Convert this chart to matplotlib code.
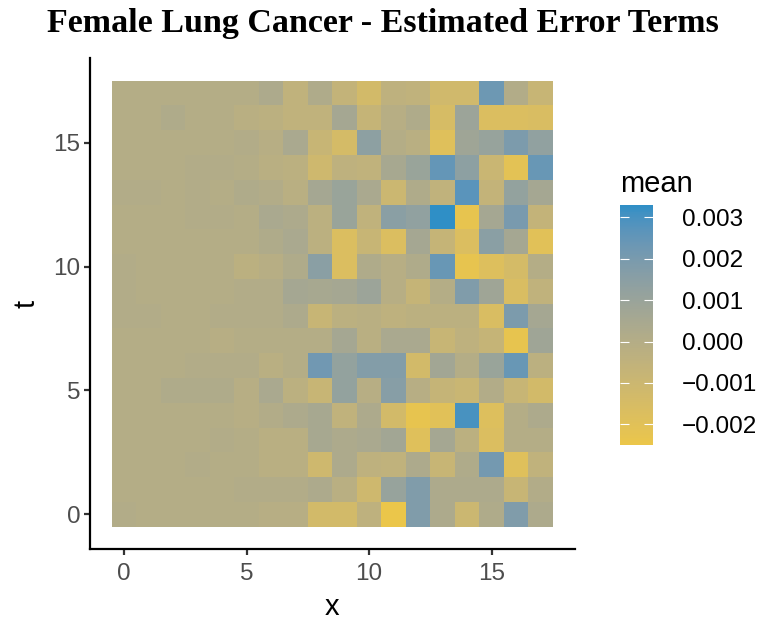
import matplotlib
matplotlib.use("Agg")
import matplotlib.pyplot as plt
import numpy as np
from matplotlib.colors import ListedColormap
from matplotlib.ticker import FuncFormatter

# grid coordinates
x_vals = np.arange(18)
t_vals = np.arange(18)

# estimated error terms, rows are t = 0 .. 17, columns x = 0 .. 17
mean_t0 = [0.0001, 0, 0, 0, 0, 0, -0.0001, -0.0001, -0.0013,
           -0.0013, -0.0004, -0.0025, 0.0018, 0.0003, -0.0010, 0.0002, 0.0018, 0.0003]
mean_t1 = [0, 0, 0, 0, 0, 0.0001, 0.0001, 0.0001, 0.0003,
           -0.0002, -0.0011, 0.0011, 0.0018, 0.0003, 0.0003, 0.0003, -0.0008, 0.0001]
mean_t2 = [0, 0, 0, 0.0001, 0, 0, -0.0002, -0.0002, -0.0011,
           0.0003, -0.0004, -0.0005, 0.0003, -0.0008, 0.0002, 0.0021, -0.0019, -0.0005]
mean_t3 = [0, 0, 0, 0, 0.0001, 0, -0.0002, -0.0002, 0.0005,
           0.0003, 0.0004, 0.0007, -0.0019, 0.0006, -0.0003, -0.0017, 0, 0]
mean_t4 = [0, 0, 0, 0, 0, -0.0001, 0.0001, 0.0003, 0.0005,
           -0.0005, 0.0003, -0.0013, -0.0023, -0.0020, 0.0030, -0.0018, 0, 0.0003]
mean_t5 = [0, 0, 0.0002, 0.0002, 0.0002, -0.0001, 0.0004, -0.0003, -0.0008,
           0.0012, -0.0001, 0.0016, -0.0001, -0.0007, -0.0009, 0.0001, -0.0008, -0.0013]
mean_t6 = [0, 0, 0, 0.0001, 0.0001, 0.0001, -0.0002, 0, 0.0022,
           0.0012, 0.0017, 0.0017, -0.0013, 0.0007, 0, 0.0010, 0.0024, -0.0003]
mean_t7 = [0, 0, 0, 0, -0.0001, 0, 0, 0, 0,
           0.0006, -0.0002, 0.0004, 0.0004, -0.0008, -0.0004, -0.0007, -0.0023, 0.0008]
mean_t8 = [0.0001, 0.0001, 0, 0, 0.0001, 0.0001, 0.0001, 0.0003, -0.0008,
           -0.0003, -0.0002, -0.0004, -0.0003, -0.0003, -0.0003, -0.0016, 0.0019, 0.0006]
mean_t9 = [0.0001, 0, 0, 0, 0, 0.0001, 0.0001, 0.0006, 0.0005,
           0.0006, 0.0009, -0.0001, -0.0007, 0, 0.0018, 0.0008, -0.0016, -0.0005]
mean_t10 = [0.0001, 0, 0, 0, 0, -0.0003, -0.0001, 0.0002, 0.0015,
            -0.0017, 0.0002, -0.0001, 0.0002, 0.0024, -0.0023, -0.0018, -0.0014, 0]
mean_t11 = [0, 0, 0, 0, 0, 0, 0.0002, 0.0004, -0.0003,
            -0.0017, -0.0008, -0.0017, 0.0006, -0.0007, -0.0017, 0.0015, 0.0006, -0.0020]
mean_t12 = [0, 0, 0, 0.0001, 0.0001, 0, 0.0004, 0.0003, -0.0003,
            0.0010, -0.0005, 0.0015, 0.0013, 0.0033, -0.0023, 0.0006, 0.0020, -0.0006]
mean_t13 = [0.0001, 0.0001, 0, 0.0001, 0, 0.0002, 0.0001, -0.0002, 0.0006,
            0.0010, 0.0004, -0.0010, 0.0002, -0.0005, 0.0027, -0.0006, 0.0012, 0.0006]
mean_t14 = [0, 0, 0, 0.0001, 0.0001, 0, -0.0002, -0.0003, -0.0011,
            -0.0004, -0.0005, 0.0005, 0.0010, 0.0025, 0.0014, -0.0009, -0.0021, 0.0024]
mean_t15 = [0, 0, 0, 0, 0, 0.0001, -0.0001, 0.0004, -0.0008,
            -0.0014, 0.0014, 0, -0.0002, -0.0019, 0.0008, 0.0011, 0.0019, 0.0013]
mean_t16 = [0, 0, 0.0002, 0, 0, -0.0002, -0.0003, -0.0005, -0.0005,
            0.0006, -0.0007, -0.0001, 0.0002, -0.0015, 0.0009, -0.0017, -0.0017, -0.0016]
mean_t17 = [0, 0, 0, 0, 0, 0, 0.0003, -0.0005, 0.0002,
            -0.0006, -0.0013, -0.0004, -0.0005, -0.0012, -0.0012, 0.0023, 0.0001, -0.0008]

colorbar_ticks = [-0.002, -0.001, 0.0, 0.001, 0.002, 0.003]

mean = np.array([mean_t0, mean_t1, mean_t2, mean_t3, mean_t4, mean_t5,
                 mean_t6, mean_t7, mean_t8, mean_t9, mean_t10, mean_t11,
                 mean_t12, mean_t13, mean_t14, mean_t15, mean_t16, mean_t17])


# ggplot-like two colour gradient, interpolated in CIELAB
def srgb_to_lab(hexcol):
    rgb = np.array([int(hexcol[i:i + 2], 16) for i in (1, 3, 5)]) / 255.0
    lin = np.where(rgb <= 0.04045, rgb / 12.92, ((rgb + 0.055) / 1.055) ** 2.4)
    m = np.array([[0.4124, 0.3576, 0.1805],
                  [0.2126, 0.7152, 0.0722],
                  [0.0193, 0.1192, 0.9505]])
    xyz = m @ lin / np.array([0.95047, 1.0, 1.08883])
    f = np.where(xyz > 0.008856, np.cbrt(xyz), 7.787 * xyz + 16 / 116)
    return np.array([116 * f[1] - 16, 500 * (f[0] - f[1]), 200 * (f[1] - f[2])])


def lab_to_srgb(lab):
    fy = (lab[..., 0] + 16) / 116
    fx = fy + lab[..., 1] / 500
    fz = fy - lab[..., 2] / 200
    f = np.stack([fx, fy, fz], axis=-1)
    xyz = np.where(f > 0.206893, f ** 3, (f - 16 / 116) / 7.787)
    xyz = xyz * np.array([0.95047, 1.0, 1.08883])
    minv = np.array([[3.2406, -1.5372, -0.4986],
                     [-0.9689, 1.8758, 0.0415],
                     [0.0557, -0.2040, 1.0570]])
    lin = xyz @ minv.T
    lin = np.clip(lin, 0, 1)
    rgb = np.where(lin <= 0.0031308, 12.92 * lin, 1.055 * lin ** (1 / 2.4) - 0.055)
    return np.clip(rgb, 0, 1)


low, high = srgb_to_lab("#EBC64A"), srgb_to_lab("#2F8FC6")
s = np.linspace(0, 1, 256)[:, None]
cmap = ListedColormap(lab_to_srgb(low + s * (high - low)))

plt.rcParams['font.family'] = ['Liberation Sans', 'DejaVu Sans']

fig = plt.figure(figsize=(7.62, 6.21), dpi=100)
ax = fig.add_axes([0.118, 0.116, 0.6365, 0.790])

edges_x = np.append(x_vals - 0.5, x_vals[-1] + 0.5)
edges_t = np.append(t_vals - 0.5, t_vals[-1] + 0.5)
mesh = ax.pcolormesh(edges_x, edges_t, mean, cmap=cmap,
                     vmin=mean.min(), vmax=mean.max(), linewidth=0)

ax.set_xlim(-1.4, 18.4)
ax.set_ylim(-1.4, 18.4)
ax.set_xticks([0, 5, 10, 15])
ax.set_yticks([0, 5, 10, 15])
for side in ['top', 'right']:
    ax.spines[side].set_visible(False)
for side in ['left', 'bottom']:
    ax.spines[side].set_linewidth(1.6)
    ax.spines[side].set_color('black')
ax.tick_params(length=4, width=1.6, color='#333333', labelcolor='#4D4D4D',
               labelsize=17.5, pad=3)
ax.tick_params(axis='x', pad=6)
ax.set_xlabel('x', fontsize=21, labelpad=6)
ax.set_ylabel('t', fontsize=21, labelpad=9)

fig.suptitle('Female Lung Cancer - Estimated Error Terms',
             family='Liberation Serif', fontweight='bold', fontsize=24.5,
             x=0.503, y=0.962, va='center')

cax = fig.add_axes([0.8136, 0.2834, 0.0433, 0.3865])
cb = fig.colorbar(mesh, cax=cax, ticks=colorbar_ticks)
cb.outline.set_visible(False)
cb.ax.yaxis.set_ticks_position('both')
cb.ax.tick_params(direction='in', color='white', length=6.5, width=0.8,
                  labelsize=17.5, labelcolor='black', pad=21)
cb.ax.yaxis.set_major_formatter(
    FuncFormatter(lambda v, p: f"{v:.3f}".replace('-0.000', '0.000').replace('-', '\u2212')))
cb.ax.set_title('mean', fontsize=21, loc='left', pad=9, x=0.0)

fig.savefig('out.png', dpi=100, facecolor='white')
